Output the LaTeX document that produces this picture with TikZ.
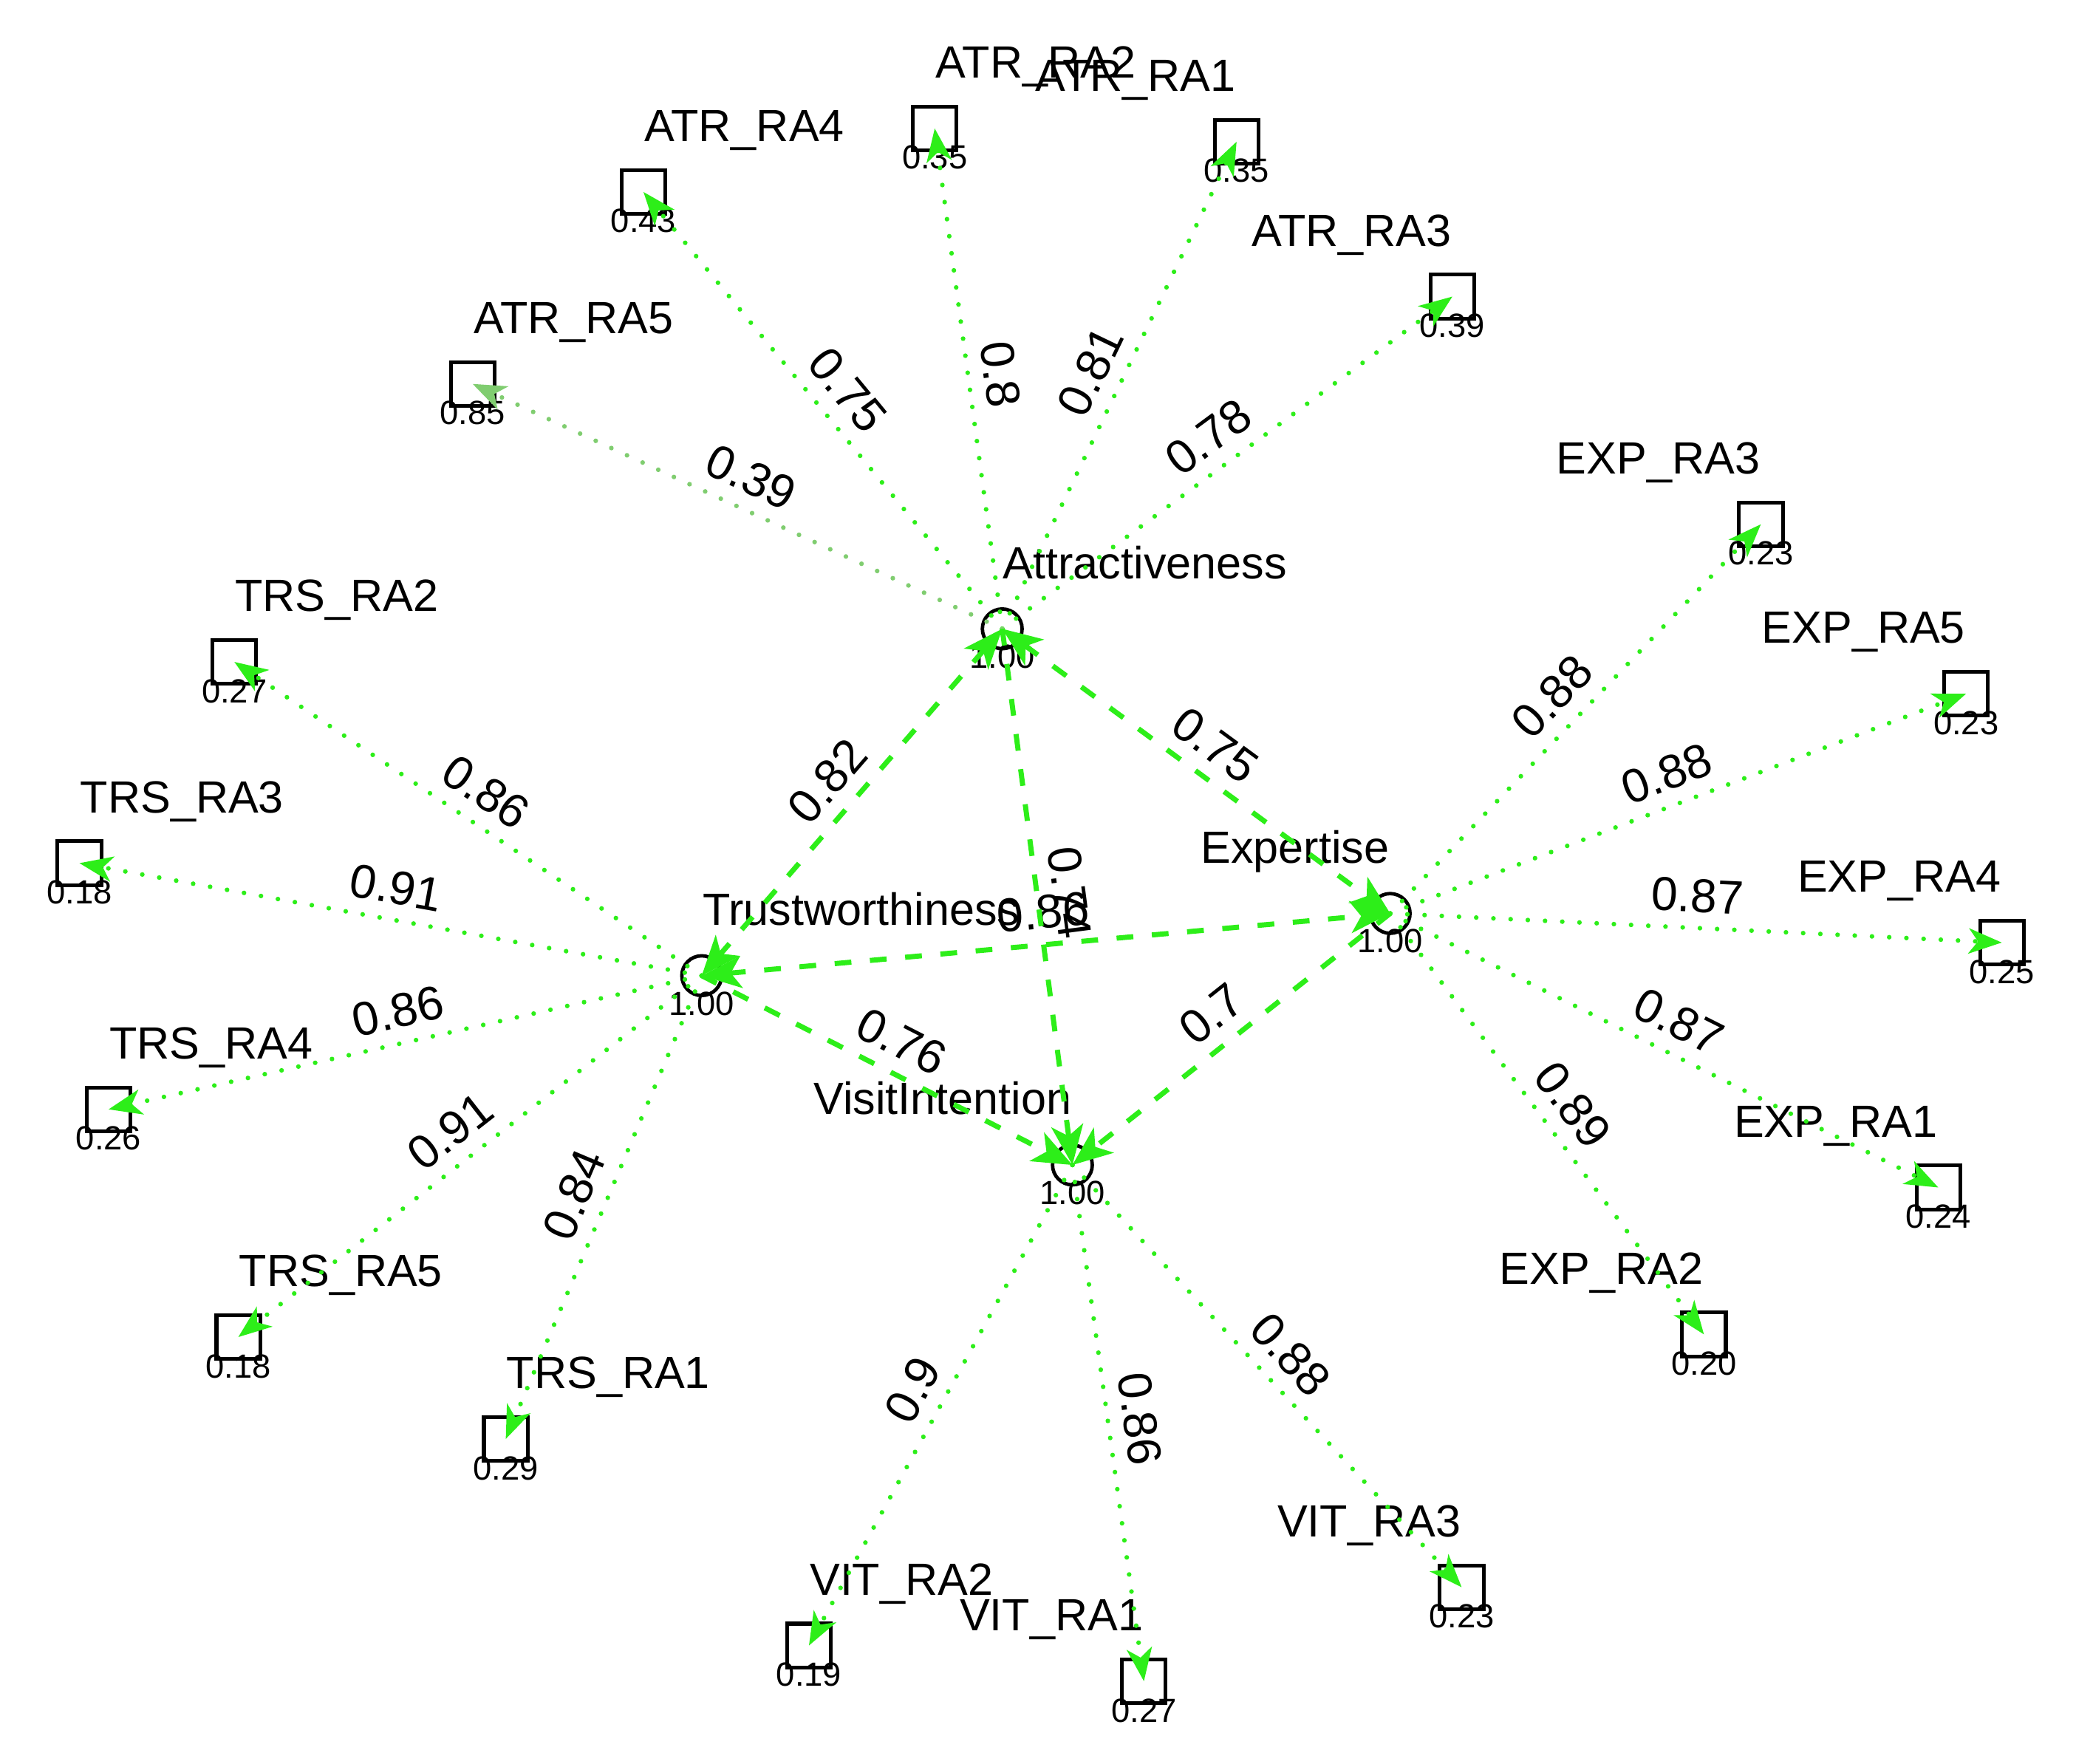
\documentclass[tikz,border=0pt]{standalone}
\usepackage{fontspec}
\setmainfont{Liberation Sans}
\usetikzlibrary{arrows.meta}
\definecolor{lg}{RGB}{45,238,25}
\definecolor{pg}{RGB}{128,205,112}
\begin{document}
\begin{tikzpicture}[x=0.01cm, y=-0.01cm,
  lat/.style={circle, draw=black, line width=0.75pt, minimum size=0.3cm, inner sep=0pt},
  man/.style={rectangle, draw=black, line width=0.8pt, minimum size=0.33cm, inner sep=0pt},
  nm/.style={font=\fontsize{9.7}{10}\selectfont, inner sep=0pt},
  val/.style={font=\fontsize{7.2}{8}\selectfont, inner sep=0pt},
  elab/.style={midway, sloped, above=1.8pt, inner sep=1pt, text=black, font=\fontsize{10.2}{11}\selectfont},
  tipa/.style={-{Stealth[length=0.25cm, width=0.19cm, inset=0.07cm]}},
  load/.style={draw=lg, line width=1pt, line cap=round, dash pattern=on 0pt off 3.7pt, tipa},
  pload/.style={load, draw=pg},
  reg/.style={draw=lg, line width=1.1pt, dash pattern=on 3.6pt off 4pt, -{Stealth[length=0.3cm, width=0.24cm, inset=0.08cm]}},
  cov/.style={draw=lg, line width=1.1pt, dash pattern=on 3.6pt off 4pt, {Stealth[length=0.3cm, width=0.24cm, inset=0.08cm]}-{Stealth[length=0.3cm, width=0.24cm, inset=0.08cm]}}
]
\useasboundingbox (0,0) rectangle (1568,1332);

% latent variables
\foreach \id/\x/\y/\anc/\txt in {
  ATT/757/475/west/Attractiveness,
  TRS/530/737/west/Trustworthiness,
  EXP/1050/690/east/Expertise,
  VIT/810/880/east/VisitIntention}
{
  \node[lat] (\id) at (\x,\y) {};
  \node[nm, anchor=base \anc] (\id-n) at (\x,{\y-38}) {\txt};
  \node[val] (\id-v) at (\x,{\y+21}) {1.00};
}

% indicators
\foreach \id/\x/\y/\anc/\txt/\v in {
  a4/486/145/west/ATR\_RA4/0.43,
  a2/706/97/west/ATR\_RA2/0.35,
  a1/934/107/east/ATR\_RA1/0.35,
  a3/1097/224/east/ATR\_RA3/0.39,
  a5/357/290/west/ATR\_RA5/0.85,
  e3/1330/396/east/EXP\_RA3/0.23,
  e5/1485/524/east/EXP\_RA5/0.23,
  e4/1512/712/east/EXP\_RA4/0.25,
  e1/1464/897/east/EXP\_RA1/0.24,
  e2/1287/1008/east/EXP\_RA2/0.20,
  v3/1104/1199/east/VIT\_RA3/0.23,
  v1/864/1270/east/VIT\_RA1/0.27,
  v2/611/1243/west/VIT\_RA2/0.19,
  t1/382/1087/west/TRS\_RA1/0.29,
  t5/180/1010/west/TRS\_RA5/0.18,
  t4/82/838/west/TRS\_RA4/0.26,
  t3/60/652/west/TRS\_RA3/0.18,
  t2/177/500/west/TRS\_RA2/0.27}
{
  \node[man] (\id) at (\x,\y) {};
  \node[nm, anchor=base \anc] (\id-n) at (\x,{\y-38}) {\txt};
  \node[val] (\id-v) at (\x,{\y+22}) {\v};
}

% loadings
\foreach \s/\t/\w in {
  ATT/a4/0.75, ATT/a2/0.8, ATT/a1/0.81, ATT/a3/0.78,
  EXP/e3/0.88, EXP/e5/0.88, EXP/e4/0.87, EXP/e1/0.87, EXP/e2/0.89,
  VIT/v3/0.88, VIT/v1/0.86, VIT/v2/0.9,
  TRS/t1/0.84, TRS/t5/0.91, TRS/t4/0.86, TRS/t3/0.91, TRS/t2/0.86}
{
  \draw[load] (\s.center) -- node[elab] {\w} (\t.center);
}
\draw[pload] (ATT.center) -- node[elab] {0.39} (a5.center);

% structural paths
\draw[cov] (ATT.center) -- node[elab] {0.82} (TRS.center);
\draw[cov] (ATT.center) -- node[elab] {0.75} (EXP.center);
\draw[cov] (TRS.center) -- node[elab] {0.86} (EXP.center);
\draw[reg] (ATT.center) -- node[elab] {0.74} (VIT.center);
\draw[reg] (TRS.center) -- node[elab] {0.76} (VIT.center);
\draw[reg] (EXP.center) -- node[elab] {0.7} (VIT.center);
\end{tikzpicture}
\end{document}
